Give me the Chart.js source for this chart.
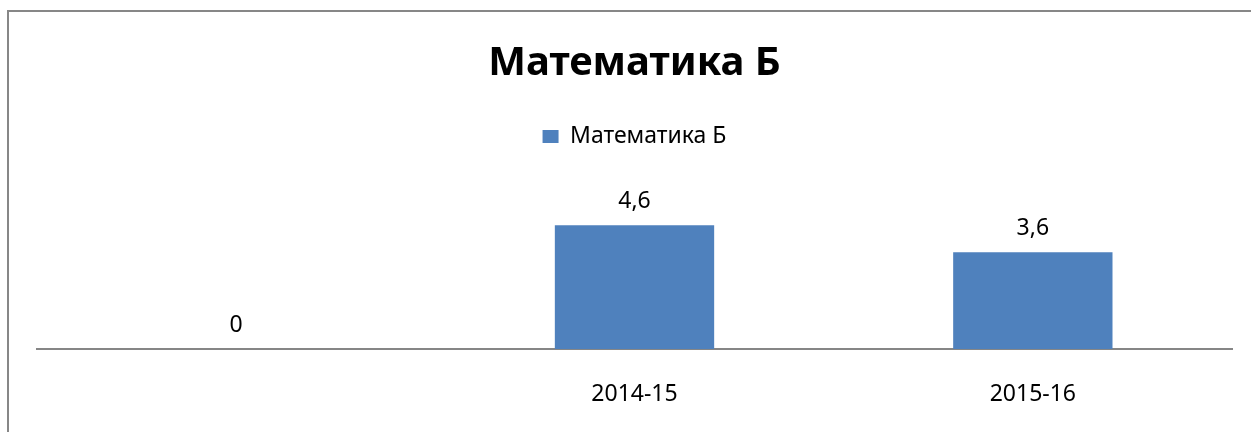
<!DOCTYPE html>
<html>
<head>
<meta charset="utf-8">
<script src="https://cdn.jsdelivr.net/npm/chart.js@4/dist/chart.umd.min.js"></script>
<style>
    html, body { margin: 0; padding: 0; background: #fff; overflow: hidden; }
    #chart { display: block; }
</style>
</head>
<body>
<canvas id="chart" width="1251" height="432"></canvas>
<script>
// Podaci
const categories = ['', '2014-15', '2015-16'];
const values = [0, 4.6, 3.6];
const seriesName = 'Математика Б';

const FONT = "'Noto Sans', 'DejaVu Sans', sans-serif";

// Okvir grafikona (lijevo i gore, ostatak je odrezan)
const chartFrame = {
    id: 'chartFrame',
    beforeDraw(chart) {
        const ctx = chart.ctx;
        ctx.save();
        ctx.strokeStyle = '#878787';
        ctx.lineWidth = 2;
        ctx.beginPath();
        ctx.moveTo(8, chart.height);
        ctx.lineTo(8, 11);
        ctx.lineTo(chart.width, 11);
        ctx.stroke();
        ctx.restore();
    }
};

// Vrijednosti iznad stupaca (kao u Excelu, decimalni zarez)
const valueLabels = {
    id: 'valueLabels',
    afterDatasetsDraw(chart) {
        const ctx = chart.ctx;
        ctx.save();
        ctx.font = '23px ' + FONT;
        ctx.fillStyle = '#000';
        ctx.textAlign = 'center';
        ctx.textBaseline = 'middle';
        chart.getDatasetMeta(0).data.forEach((bar, i) => {
            const txt = String(values[i]).replace('.', ',');
            ctx.fillText(txt, bar.x, bar.y - 24);
        });
        ctx.restore();
    }
};

new Chart(document.getElementById('chart'), {
    type: 'bar',
    data: {
        labels: categories,
        datasets: [{
            label: seriesName,
            data: values,
            backgroundColor: '#4F81BD',
            barPercentage: 0.4,
            categoryPercentage: 1.0
        }]
    },
    options: {
        responsive: false,
        animation: false,
        layout: { padding: { left: 37, right: 19, top: 0, bottom: 0 } },
        scales: {
            x: {
                grid: { display: false, drawTicks: false, tickLength: 0 },
                border: { display: true, color: '#868686', width: 2 },
                ticks: { color: '#000', padding: 32, font: { family: FONT, size: 23 } },
                afterFit(scale) { scale.height = 83; }
            },
            y: {
                display: false,
                min: 0,
                max: 7.1
            }
        },
        plugins: {
            title: {
                display: true,
                text: seriesName,
                color: '#000',
                font: { family: FONT, size: 40, weight: 'bold' },
                padding: { top: 40, bottom: 27 }
            },
            legend: {
                labels: {
                    color: '#000',
                    boxWidth: 16,
                    boxHeight: 13,
                    padding: 10,
                    font: { family: FONT, size: 23 }
                }
            },
            tooltip: { enabled: false }
        }
    },
    plugins: [chartFrame, valueLabels]
});
</script>
</body>
</html>
